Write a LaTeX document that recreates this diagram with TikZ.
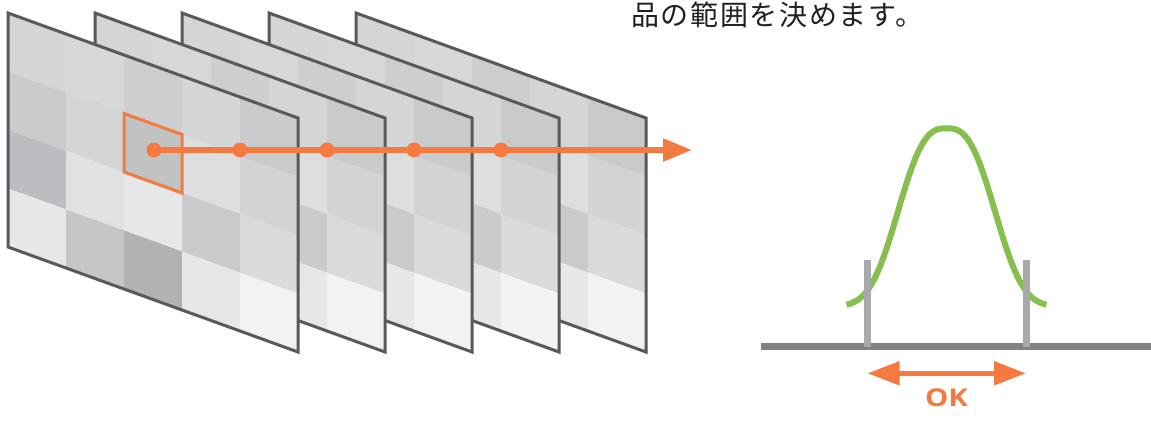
\documentclass[tikz,border=0pt]{standalone}
\usepackage{fontspec}
\usetikzlibrary{arrows.meta}
\newfontfamily\jpfont[LetterSpace=6]{Noto Sans CJK JP}
\newfontfamily\okfont[FakeStretch=1.2]{Open Sans}
\definecolor{accent}{HTML}{F47A3F}
\definecolor{bellgreen}{HTML}{86BF4E}
\definecolor{axisgray}{HTML}{808285}
\definecolor{bargray}{HTML}{A7A9AC}
\definecolor{edgegray}{HTML}{58595B}
\definecolor{textdark}{HTML}{231F20}
\definecolor{pa}{HTML}{D4D5D7}
\definecolor{pb}{HTML}{D6D7D9}
\definecolor{pc}{HTML}{CDCED0}
\definecolor{pd}{HTML}{C9CACC}
\definecolor{pe}{HTML}{C1C2C4}
\definecolor{pf}{HTML}{DDDEE0}
\definecolor{pg}{HTML}{BCBDC0}
\definecolor{ph}{HTML}{E0E1E3}
\definecolor{pi}{HTML}{E6E7E8}
\definecolor{pj}{HTML}{C5C6C8}
\definecolor{pk}{HTML}{B1B2B4}
\definecolor{pl}{HTML}{F1F2F3}
\definecolor{pm}{HTML}{D2D3D5}
\definecolor{po}{HTML}{D9DADC}
\newcommand\cellrow[2]{\foreach \cc [count=\ci from 0] in {#2} {\fill[fill=\cc] (\ci,#1) -- ++(1,0) -- ++(0,1) -- ++(-1,0) -- cycle;}}
\newcommand\framepanel[1]{%
  \begin{scope}[shift={(8+#1,13)}, x={(58pt,-21pt)}, y={(0pt,-58.5pt)}]
    \cellrow{0}{pa,pb,pc,pa,pd}
    \cellrow{1}{pd,pa,pe,pf,pm}
    \cellrow{2}{pg,ph,pi,pd,po}
    \cellrow{3}{pi,pj,pk,pi,pl}
    \draw[panelborder] (0,0) -- (5,0) -- (5,4) -- (0,4) -- cycle;
  \end{scope}}
\tikzset{
  panelborder/.style={draw=edgegray, line width=3pt, line join=miter},
  dotnode/.style={circle, fill=accent, inner sep=0pt, minimum size=15pt},
  orangeline/.style={draw=accent, line width=5.5pt},
  okarrow/.style={draw=accent, line width=5pt, {Triangle[length=32pt,width=23pt]}-{Triangle[length=32pt,width=23pt]}},
  bar/.style={draw=bargray, line width=6.5pt},
}
\begin{document}
\begin{tikzpicture}[x=1pt,y=-1pt]
\useasboundingbox (0,0) rectangle (1151,425);
% stacked frames, back to front
\framepanel{348}
\framepanel{261}
\framepanel{174}
\framepanel{87}
\framepanel{0}
% highlighted pixel
\draw[draw=accent, line width=3pt, line join=miter] (124,113.5) -- (182,134.5) -- (182,193) -- (124,172) -- cycle;
% pixel track
\node[dotnode] (d0) at (154,150) {};
\node[dotnode] (d1) at (240,150) {};
\node[dotnode] (d2) at (327,150) {};
\node[dotnode] (d3) at (414,150) {};
\node[dotnode] (d4) at (501,150) {};
\coordinate (tip) at (692,150);
\draw[orangeline, -{Triangle[length=29pt,width=22pt]}] (d0.center) -- (tip);
% caption
\node[anchor=base west, inner sep=0pt, text=textdark, font=\jpfont\fontsize{28}{32}\selectfont] (title) at (631,25.3) {品の範囲を決めます。};
% distribution
\coordinate (axL) at (761,346.7);
\coordinate (axR) at (1151,346.7);
\draw[draw=axisgray, line width=6.5pt] (axL) -- (axR);
\draw[draw=bellgreen, line width=6pt] plot[domain=-100:100, samples=161] ({946.5+\x}, {306.5-178.2*exp(-(abs(\x)/57.5)^2.75)});
\coordinate (barLt) at (867.3,260);
\coordinate (barLb) at (867.3,347);
\coordinate (barRt) at (1026.3,260);
\coordinate (barRb) at (1026.3,347);
\draw[bar] (barLt) -- (barLb);
\draw[bar] (barRt) -- (barRb);
\coordinate (okL) at (867.5,373.3);
\coordinate (okR) at (1026,373.3);
\draw[okarrow] (okL) -- (okR);
\node[text=accent, font=\okfont\bfseries\fontsize{24.5}{28}\selectfont, inner sep=0pt] (ok) at (946.5,398) {OK};
\end{tikzpicture}
\end{document}
